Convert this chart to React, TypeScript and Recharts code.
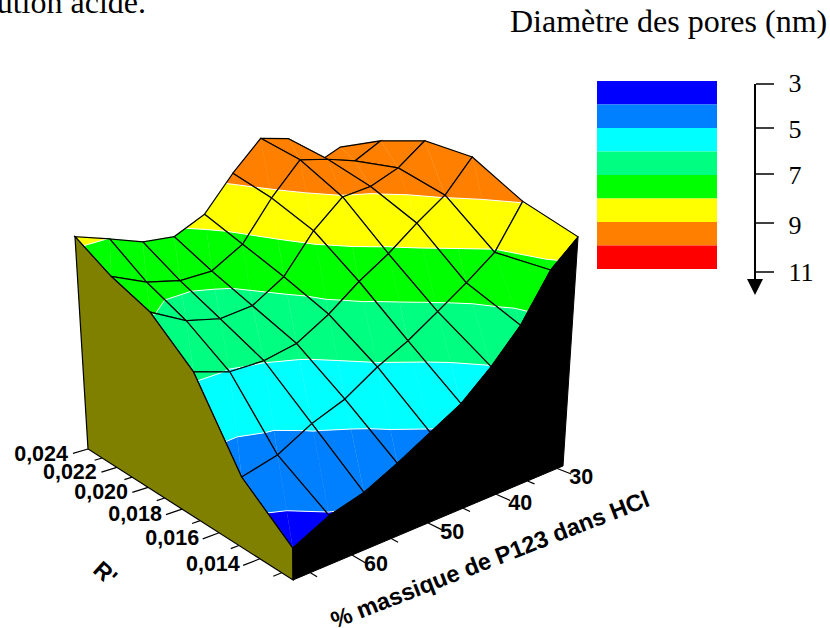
import React from 'react'
import { ScatterChart, Scatter, XAxis, YAxis, ReferenceArea } from 'recharts'

// mesh positions on the two base axes
const pMesh = [67, 62.8, 58.6, 54.4, 50.1, 45.9, 41.7, 37.5, 33.2, 29]
const rMesh = [0.0125, 0.0148, 0.0171, 0.0194, 0.0217, 0.024]

// pore diameter (nm), one list per % P123, from lowest to highest R'
const d67 = [3.59, 4.44, 6.15, 7.05, 7.52, 8.15]
const d63 = [3.96, 4.66, 5.97, 6.71, 7.26, 7.99]
const d59 = [4.17, 5.1, 6.03, 6.6, 7.16, 7.81]
const d54 = [4.53, 5.42, 6.24, 6.75, 7.26, 7.83]
const d50 = [4.95, 5.93, 6.74, 7.29, 7.79, 8.29]
const d46 = [5.36, 6.34, 7.35, 8.26, 8.82, 9.24]
const d42 = [5.98, 6.84, 7.87, 8.97, 9.68, 10.06]
const d38 = [6.73, 7.36, 8.48, 9.14, 9.63, 10.0]
const d33 = [7.82, 7.94, 9.05, 9.52, 9.52, 9.26]
const d29 = [8.45, 9.03, 9.89, 10.13, 9.98, 9.66]
const surface = [d67, d63, d59, d54, d50, d46, d42, d38, d33, d29]

const floorZ = 2.95
const surfaceLevels = [3, 4, 5, 6, 7, 8, 9, 11]
const legendColors = ['#0000ff', '#0080ff', '#00ffff', '#00ff80', '#00ff00', '#ffff00', '#ff8000', '#ff0000']
const legendTicks = [3, 5, 7, 9, 11]
const rTicks = [0.014, 0.016, 0.018, 0.02, 0.022, 0.024]
const rMinorTicks = [0.013, 0.015, 0.017, 0.019, 0.021, 0.023]
const pTicks = [30, 40, 50, 60]
const pMinorTicks = [35, 45, 55, 65]

const uOf = (p: number) => (67 - p) / 38
const vOf = (r: number) => (r - 0.0125) / 0.0115

// perspective view of the box, fitted on the corners of the picture
function project(u: number, v: number, z: number) {
  const d = 1 + 0.2385 * u + 0.2885 * v
  const bx = (404.3 * u - 179.6 * v + 293) / d
  const by = (-2.86 * u - 1.46 * v + 580) / d
  const z1 = z - floorZ
  const h = 0.083 * (by + 5) * (1 + 0.02 * (1 - u)) * z1 * (1 + 0.012 * z1)
  return { x: bx + ((bx - 318) / (4200 - by)) * h, y: by - h }
}

type V = { u: number; v: number; z: number }
type Mark = { pts: { x: number; y: number }[]; fill?: string; stroke?: string; width?: number }

const lerp = (a: V, b: V, t: number): V => ({
  u: a.u + (b.u - a.u) * t,
  v: a.v + (b.v - a.v) * t,
  z: a.z + (b.z - a.z) * t,
})

function clip(poly: V[], level: number, keepAbove: boolean) {
  const out: V[] = []
  poly.forEach((a, k) => {
    const b = poly[(k + 1) % poly.length]
    const aIn = keepAbove ? a.z >= level : a.z <= level
    const bIn = keepAbove ? b.z >= level : b.z <= level
    if (aIn) out.push(a)
    if (aIn !== bIn) out.push(lerp(a, b, (level - a.z) / (b.z - a.z)))
  })
  return out
}

function triangleMarks(tri: V[]) {
  const marks: Mark[] = []
  for (let k = 0; k < surfaceLevels.length - 1; k++) {
    let poly = clip(tri, surfaceLevels[k], true)
    if (poly.length) poly = clip(poly, surfaceLevels[k + 1], false)
    if (poly.length > 2) {
      marks.push({
        pts: poly.map((p) => project(p.u, p.v, p.z)),
        fill: legendColors[k],
        stroke: legendColors[k],
        width: 0.5,
      })
    }
  }
  return marks
}

function contourMarks(tri: V[]) {
  const marks: Mark[] = []
  surfaceLevels.slice(1, -1).forEach((level) => {
    const cross: V[] = []
    tri.forEach((a, k) => {
      const b = tri[(k + 1) % 3]
      if (a.z < level !== b.z < level) cross.push(lerp(a, b, (level - a.z) / (b.z - a.z)))
    })
    if (cross.length === 2) {
      marks.push({ pts: cross.map((p) => project(p.u, p.v, p.z)), stroke: '#ffffff', width: 1 })
    }
  })
  return marks
}

function buildSurface() {
  const marks: Mark[] = []
  const node = (i: number, j: number): V => ({ u: uOf(pMesh[i]), v: vOf(rMesh[j]), z: surface[i][j] })
  for (let j = rMesh.length - 2; j >= 0; j--) {
    for (let i = pMesh.length - 2; i >= 0; i--) {
      const a = node(i, j)
      const b = node(i + 1, j)
      const c = node(i + 1, j + 1)
      const d = node(i, j + 1)
      const tris = [[a, b, c], [a, c, d]]
      tris.forEach((t) => marks.push(...triangleMarks(t)))
      tris.forEach((t) => marks.push(...contourMarks(t)))
      marks.push({
        pts: [a, b, c, d, a].map((p) => project(p.u, p.v, p.z)),
        stroke: '#000000',
        width: 1.2,
      })
    }
  }
  return marks
}

function buildWalls() {
  const left = rMesh.map((r, j) => project(0, vOf(r), surface[0][j]))
  const right = pMesh.map((p, i) => project(uOf(p), 0, surface[i][0]))
  const marks: Mark[] = [
    {
      pts: [...left, project(0, 1, floorZ), project(0, 0, floorZ), left[0]],
      fill: '#808000',
      stroke: '#000000',
      width: 1.2,
    },
    {
      pts: [...right, project(1, 0, floorZ), project(0, 0, floorZ), right[0]],
      fill: '#000000',
      stroke: '#000000',
      width: 1,
    },
  ]
  return marks
}

function buildTicks() {
  const marks: Mark[] = []
  const tick = (a: { x: number; y: number }, b: { x: number; y: number }) =>
    marks.push({ pts: [a, b], stroke: '#000000', width: 1.2 })
  rTicks.forEach((r) => tick(project(0, vOf(r), floorZ), project(-0.05, vOf(r), floorZ)))
  rMinorTicks.forEach((r) => tick(project(0, vOf(r), floorZ), project(-0.025, vOf(r), floorZ)))
  pTicks.forEach((p) => tick(project(uOf(p), 0, floorZ), project(uOf(p), -0.05, floorZ)))
  pMinorTicks.forEach((p) => tick(project(uOf(p), 0, floorZ), project(uOf(p), -0.025, floorZ)))
  return marks
}

const legendTickY: Record<number, number> = { 3: 84, 5: 128, 7: 174, 9: 223, 11: 272 }
const legendLabelY: Record<number, number> = { 3: 92, 5: 138, 7: 184, 9: 234, 11: 281 }

function buildLegendAxis() {
  const marks: Mark[] = [
    { pts: [{ x: 755, y: 84 }, { x: 755, y: 282 }], stroke: '#000000', width: 2 },
    { pts: [{ x: 747, y: 279 }, { x: 763, y: 279 }, { x: 755, y: 295 }], fill: '#000000' },
  ]
  legendTicks.forEach((t) => {
    marks.push({ pts: [{ x: 756, y: legendTickY[t] }, { x: 774, y: legendTickY[t] }], stroke: '#000000', width: 1.5 })
  })
  return marks
}

const SANS = '"Liberation Sans", Arial, sans-serif'
const SERIF = '"Liberation Serif", "Times New Roman", serif'

type Label = {
  x: number
  y: number
  text: string
  anchor?: string
  size: number
  family: string
  bold?: boolean
  rotate?: number
}

function buildLabels() {
  const labels: Label[] = [
    { x: 510, y: 32, text: 'Diamètre des pores (nm)', size: 32, family: SERIF },
    { x: 146, y: 13, text: 'ution acide.', anchor: 'end', size: 32, family: SERIF },
    { x: 100, y: 579, text: "R'", anchor: 'middle', size: 23, family: SANS, bold: true, rotate: 42 },
    {
      x: 493,
      y: 567,
      text: '% massique de P123 dans HCl',
      anchor: 'middle',
      size: 23.5,
      family: SANS,
      bold: true,
      rotate: -21.3,
    },
  ]
  rTicks.forEach((r) => {
    const a = project(0, vOf(r), floorZ)
    labels.push({
      x: a.x - 20,
      y: a.y + 12,
      text: r.toFixed(3).replace('.', ','),
      anchor: 'end',
      size: 21.5,
      family: SANS,
      bold: true,
    })
  })
  pTicks.forEach((p) => {
    const a = project(uOf(p), 0, floorZ)
    labels.push({ x: a.x + 24, y: a.y + 16, text: String(p), anchor: 'middle', size: 21.5, family: SANS, bold: true })
  })
  legendTicks.forEach((t) => {
    labels.push({ x: t === 11 ? 801 : 795, y: legendLabelY[t], text: String(t), anchor: 'middle', size: 26, family: SERIF })
  })
  return labels
}

const NoDot = () => null

const TextMark = (props: any) => {
  const l: Label = props.payload
  return (
    <text
      x={props.cx}
      y={props.cy}
      textAnchor={l.anchor ?? 'start'}
      fontSize={l.size}
      fontFamily={l.family}
      fontWeight={l.bold ? 700 : 400}
      fill="#000000"
      transform={l.rotate ? `rotate(${l.rotate} ${props.cx} ${props.cy})` : undefined}
    >
      {l.text}
    </text>
  )
}

const drawMark = (m: Mark, key: string) => (
  <Scatter
    key={key}
    data={m.pts}
    isAnimationActive={false}
    shape={NoDot}
    line={{ fill: m.fill ?? 'none', stroke: m.stroke ?? 'none', strokeWidth: m.width ?? 0 }}
  />
)

export default function App() {
  const marks = [...buildSurface(), ...buildWalls(), ...buildTicks(), ...buildLegendAxis()]
  const labels = buildLabels()
  return (
    <div style={{ position: 'absolute', left: 0, top: 0, width: 830, height: 628, background: '#fff' }}>
      <ScatterChart width={830} height={628} margin={{ top: 0, right: 0, bottom: 0, left: 0 }}>
        <XAxis type="number" dataKey="x" domain={[0, 830]} hide />
        <YAxis type="number" dataKey="y" domain={[0, 628]} reversed hide />
        {legendColors.map((c, k) => (
          <ReferenceArea
            key={c}
            x1={597}
            x2={717}
            y1={81 + k * 23.5}
            y2={81 + (k + 1) * 23.5}
            fill={c}
            fillOpacity={1}
            stroke="none"
          />
        ))}
        {marks.map((m, k) => drawMark(m, `m${k}`))}
        {labels.map((l, k) => (
          <Scatter key={`t${k}`} data={[l]} isAnimationActive={false} shape={TextMark} />
        ))}
      </ScatterChart>
    </div>
  )
}
